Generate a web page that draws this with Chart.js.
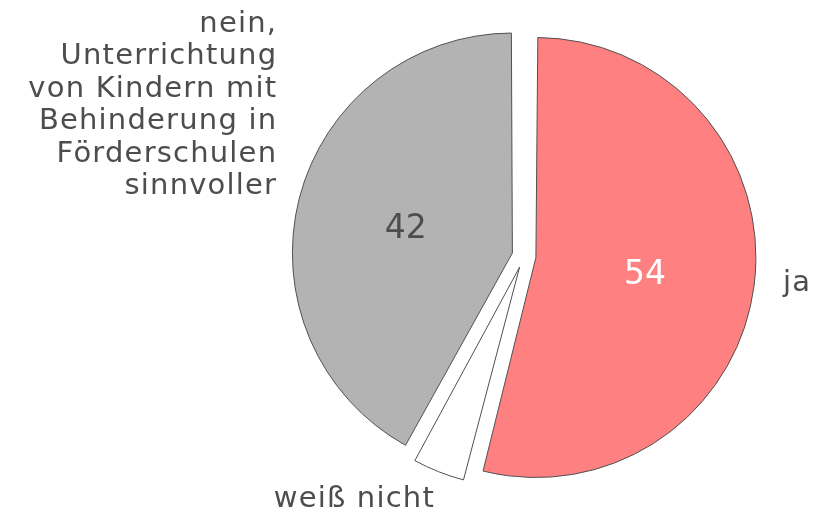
<!DOCTYPE html>
<html>
<head>
<meta charset="utf-8">
<script src="https://cdn.jsdelivr.net/npm/chart.js@4/dist/chart.umd.min.js"></script>
<style>
  body { margin: 0; background: #fff; }
  #wrap { width: 824px; height: 514px; }
</style>
</head>
<body>
<div id="wrap"><canvas id="pie" width="824" height="514"></canvas></div>
<script>
// data
const labels = ["ja", "weiß nicht", "nein, Unterrichtung von Kindern mit Behinderung in Förderschulen sinnvoller"];
const outerLines = [["ja"], ["weiß nicht"], ["nein,", "Unterrichtung", "von Kindern mit", "Behinderung in", "Förderschulen", "sinnvoller"]];
const values = [54, 4, 42];
const showValue = [true, false, true];
const sliceColors = ["#ff8080", "#ffffff", "#b3b3b3"];
const valueColors = ["#ffffff", "#4d4d4d", "#4d4d4d"];

const textColor = "#4d4d4d";
const fontFamily = "'DejaVu Sans', Verdana, sans-serif";
const pieRadius = 220;
const explode = 12;   // pixels each slice is pulled out

// chart.js moves an arc by offset/4 and grows the radius of wide slices,
// so undo the growth to keep every slice at the same radius
const keepRadius = {
    id: "keepRadius",
    afterDatasetUpdate(chart, args) {
        args.meta.data.forEach((arc) => {
            const c = arc.endAngle - arc.startAngle;
            const fix = 1 - Math.sin(Math.min(Math.PI, c));
            arc.outerRadius = pieRadius - explode * fix;
        });
    }
};

// draws the value inside each slice and the category name outside
const sliceLabels = {
    id: "sliceLabels",
    afterDatasetsDraw(chart) {
        const ctx = chart.ctx;
        const arcs = chart.getDatasetMeta(0).data;
        ctx.save();
        arcs.forEach((arc, i) => {
            const mid = (arc.startAngle + arc.endAngle) / 2;
            const dx = Math.cos(mid), dy = Math.sin(mid);
            const cx = arc.x + dx * explode, cy = arc.y + dy * explode;

            if (showValue[i]) {
                ctx.font = "33px " + fontFamily;
                ctx.fillStyle = valueColors[i];
                ctx.textAlign = "center";
                ctx.textBaseline = "middle";
                ctx.fillText(String(values[i]), cx + dx * pieRadius * 0.5, cy + dy * pieRadius * 0.5 + 4);
            }

            const r = pieRadius + 36;
            const ax = arc.x + dx * r, ay = arc.y + dy * r;
            const hx = ax + (dy > 0 ? 4 : 0) + (dx > 0 ? 1 : 0);
            const by = ay + (dy > 0.5 ? 13 : (dy > 0 ? 3 : 2));
            const lines = outerLines[i];
            const lh = 32.5;
            ctx.font = "29px " + fontFamily;
            ctx.letterSpacing = "1.2px";
            ctx.fillStyle = textColor;
            ctx.textAlign = dx >= 0 ? "left" : "right";
            ctx.textBaseline = "alphabetic";
            lines.forEach((ln, k) => {
                ctx.fillText(ln, dx >= 0 ? hx : hx + 1.2, by - (lines.length - 1 - k) * lh);
            });
            ctx.letterSpacing = "0px";
        });
        ctx.restore();
    }
};

new Chart(document.getElementById("pie").getContext("2d"), {
    type: "pie",
    data: {
        labels: labels,
        datasets: [{
            data: values,
            backgroundColor: sliceColors,
            borderColor: "#505050",
            borderWidth: 1,
            borderJoinStyle: "miter",
            offset: explode * 4,
            hoverOffset: 0
        }]
    },
    options: {
        responsive: false,
        animation: false,
        radius: pieRadius,
        layout: { padding: { left: 300, right: 76, top: 0, bottom: 2 } },
        plugins: {
            legend: { display: false },
            tooltip: { enabled: false }
        },
        events: []
    },
    plugins: [keepRadius, sliceLabels]
});
</script>
</body>
</html>
